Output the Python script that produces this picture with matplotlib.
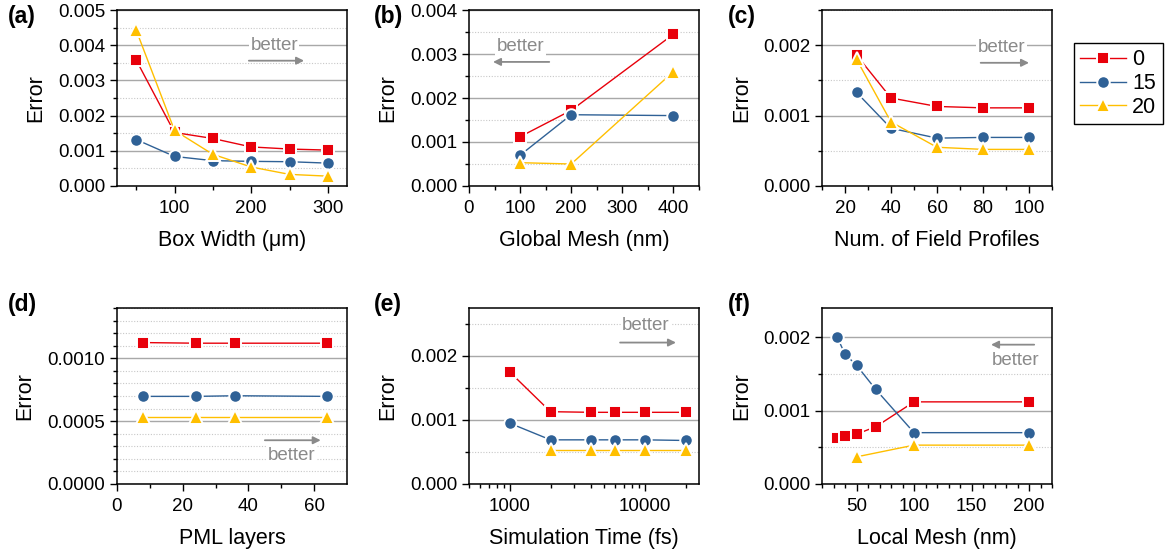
import numpy as np
import matplotlib
matplotlib.use("Agg")
import matplotlib.pyplot as plt
from matplotlib.ticker import MultipleLocator, LogLocator, FixedLocator, FuncFormatter, NullFormatter
from matplotlib.lines import Line2D

plt.rcParams['font.family'] = ['Liberation Sans', 'DejaVu Sans']

# ---------------- data ----------------
series_labels = ['0', '15', '20']

# (a) Box width (um)
a_x = [50, 100, 150, 200, 250, 300]
a_0 = [0.00358, 0.00152, 0.00135, 0.00111, 0.00105, 0.00102]
a_15 = [0.00132, 0.00084, 0.00072, 0.00070, 0.00069, 0.00065]
a_20 = [0.00443, 0.00158, 0.00090, 0.00054, 0.00033, 0.00028]

# (b) Global mesh (nm)
b_x = [100, 200, 400]
b_0 = [0.00112, 0.00172, 0.00345]
b_15 = [0.00070, 0.00162, 0.00160]
b_20 = [0.00053, 0.00050, 0.00260]

# (c) Number of field profiles
c_x = [25, 40, 60, 80, 100]
c_0 = [0.00186, 0.00125, 0.00113, 0.00111, 0.00111]
c_15 = [0.00133, 0.00082, 0.00068, 0.00069, 0.00069]
c_20 = [0.00180, 0.00091, 0.00055, 0.00052, 0.00052]

# (d) PML layers
d_x = [8, 24, 36, 64]
d_0 = [0.001125, 0.00112, 0.00112, 0.00112]
d_15 = [0.000697, 0.000697, 0.000702, 0.000697]
d_20 = [0.00053, 0.00053, 0.00053, 0.00053]

# (e) Simulation time (fs)
e_x = [1000, 2000, 4000, 6000, 10000, 20000]
e_0 = [0.00175, 0.00113, 0.00112, 0.00112, 0.00112, 0.00112]
e_15 = [0.00095, 0.00069, 0.00069, 0.00069, 0.00069, 0.00068]
e_x20 = [2000, 4000, 6000, 10000, 20000]
e_20 = [0.00053, 0.00053, 0.00053, 0.00053, 0.00053]

# (f) Local mesh (nm)
f_x = [33.3, 40, 50, 66.7, 100, 200]
f_0 = [0.00063, 0.00065, 0.00068, 0.00078, 0.00112, 0.00112]
f_15 = [0.00200, 0.00177, 0.00162, 0.00129, 0.00070, 0.00070]
f_x20 = [50, 100, 200]
f_20 = [0.00037, 0.00053, 0.00053]

# ---------------- style ----------------
RED = '#e8000b'
BLUE = '#2f6196'
GOLD = '#ffbf00'
GRAY_TXT = '#8a8a8a'
styles = [dict(color=RED, marker='s', ms=8.3),
          dict(color=BLUE, marker='o', ms=9.0),
          dict(color=GOLD, marker='^', ms=10.5)]
FS = 13.5

W, H = 1167, 556
fig = plt.figure(figsize=(W / 100, H / 100), dpi=100)


def make_ax(left, top, w=230, h=176):
    return fig.add_axes([left / W, (H - top - h) / H, w / W, h / H])


def plot_series(ax, x, y, k):
    st = styles[k]
    ax.plot(x, y, '-', color=st['color'], lw=1.0, marker=st['marker'],
            ms=st['ms'], mfc=st['color'], mec='white', mew=1.4, zorder=3 + k * 0.1,
            clip_on=False)


def style_ax(ax, ymajor, yminor, ylim, ylabel_x=-0.355):
    ax.set_ylim(*ylim)
    ax.yaxis.set_major_locator(MultipleLocator(ymajor))
    ax.yaxis.set_minor_locator(MultipleLocator(yminor))
    ax.tick_params(which='both', direction='out', labelsize=FS, width=1.0, color='black')
    ax.tick_params(which='major', length=5)
    ax.tick_params(which='minor', length=3)
    ax.tick_params(axis='x', pad=5)
    for s in ax.spines.values():
        s.set_linewidth(1.1)
    ax.grid(True, which='major', axis='y', color='#a8a8a8', lw=1.0, ls='-', zorder=0)
    ax.grid(True, which='minor', axis='y', color='#c8c8c8', lw=0.8, ls=(0, (1, 1.5)), zorder=0)
    ax.set_axisbelow(True)
    ax.set_ylabel('Error', fontsize=FS + 2)
    ax.yaxis.set_label_coords(ylabel_x, 0.5)
    ax.yaxis.label.set_va('center')


def set_xlabel(ax, text):
    ax.set_xlabel(text, fontsize=FS + 2)
    ax.xaxis.set_label_coords(0.5, -0.31)
    ax.xaxis.label.set_va('center')


def better(ax, tx, ty, ax0, ax1, ay):
    ax.text(tx, ty, 'better', color=GRAY_TXT, fontsize=FS, ha='center', va='center',
            bbox=dict(facecolor='white', edgecolor='none', pad=1.0), zorder=2)
    ax.annotate('', xy=(ax1, ay), xytext=(ax0, ay),
                arrowprops=dict(arrowstyle='-|>', color='#8a8a8a', lw=1.3,
                                mutation_scale=11, shrinkA=0, shrinkB=0), zorder=2)


def panel_label(x, y, s):
    fig.text(x / W, 1 - y / H, s, fontsize=FS + 3, fontweight='bold', ha='left', va='center')


fmt3 = FuncFormatter(lambda v, p: f'{v:.3f}')
fmt4 = FuncFormatter(lambda v, p: f'{v:.4f}')

# (a)
ax = make_ax(117, 10)
for k, y in enumerate([a_0, a_15, a_20]):
    plot_series(ax, a_x, y, k)
ax.set_xlim(25, 325)
ax.xaxis.set_major_locator(FixedLocator([100, 200, 300]))
ax.xaxis.set_minor_locator(FixedLocator([50, 150, 250]))
style_ax(ax, 0.001, 0.0005, (0, 0.005))
ax.yaxis.set_major_formatter(fmt3)
set_xlabel(ax, 'Box Width (μm)')
better(ax, 230, 0.0040, 197, 269, 0.00356)
panel_label(8, 16, '(a)')

# (b)
ax = make_ax(469, 10)
for k, y in enumerate([b_0, b_15, b_20]):
    plot_series(ax, b_x, y, k)
ax.set_xlim(0, 450)
ax.xaxis.set_major_locator(MultipleLocator(100))
ax.xaxis.set_minor_locator(MultipleLocator(50))
style_ax(ax, 0.001, 0.0005, (0, 0.004))
ax.yaxis.set_major_formatter(fmt3)
set_xlabel(ax, 'Global Mesh (nm)')
better(ax, 101, 0.00318, 157, 47, 0.00282)
panel_label(374, 16, '(b)')

# (c)
ax = make_ax(822, 10)
for k, y in enumerate([c_0, c_15, c_20]):
    plot_series(ax, c_x, y, k)
ax.set_xlim(10, 110)
ax.xaxis.set_major_locator(MultipleLocator(20))
ax.xaxis.set_minor_locator(FixedLocator([10, 30, 50, 70, 90, 110]))
style_ax(ax, 0.001, 0.0005, (0, 0.0025), ylabel_x=-0.35)
ax.yaxis.set_major_formatter(fmt3)
set_xlabel(ax, 'Num. of Field Profiles')
better(ax, 88, 0.00197, 79, 100, 0.00175)
panel_label(728, 16, '(c)')

# legend
handles = [Line2D([], [], color=st['color'], lw=1.0, marker=st['marker'], ms=st['ms'],
                  mfc=st['color'], mec='white', mew=1.4) for st in styles]
leg = fig.legend(handles, series_labels, loc='upper left',
                 bbox_to_anchor=(1074 / W, 1 - 43 / H), borderaxespad=0,
                 fontsize=15.5, frameon=True, fancybox=False, edgecolor='black',
                 framealpha=1, handlelength=2.1, handletextpad=0.3, labelspacing=0.12,
                 borderpad=0.3)
leg.get_frame().set_linewidth(1.0)

# (d)
ax = make_ax(117, 308)
for k, y in enumerate([d_0, d_15, d_20]):
    plot_series(ax, d_x, y, k)
ax.set_xlim(0, 70)
ax.xaxis.set_major_locator(MultipleLocator(20))
ax.xaxis.set_minor_locator(FixedLocator([10, 30, 50]))
style_ax(ax, 0.0005, 0.0001, (0, 0.0014), ylabel_x=-0.40)
ax.yaxis.set_major_formatter(fmt4)
set_xlabel(ax, 'PML layers')
better(ax, 53, 0.000229, 45, 62, 0.000348)
panel_label(8, 305, '(d)')

# (e)
ax = make_ax(469, 308)
for k, (x, y) in enumerate([(e_x, e_0), (e_x, e_15), (e_x20, e_20)]):
    plot_series(ax, x, y, k)
ax.set_xscale('log')
ax.set_xlim(500, 25000)
ax.xaxis.set_major_locator(FixedLocator([1000, 10000]))
ax.xaxis.set_major_formatter(FuncFormatter(lambda v, p: f'{int(round(v))}'))
ax.xaxis.set_minor_locator(LogLocator(base=10, subs=np.arange(2, 10), numticks=20))
ax.xaxis.set_minor_formatter(NullFormatter())
style_ax(ax, 0.001, 0.0005, (0, 0.00275))
ax.yaxis.set_major_formatter(fmt3)
set_xlabel(ax, 'Simulation Time (fs)')
better(ax, 10100, 0.00247, 6530, 16900, 0.00221)
panel_label(374, 305, '(e)')

# (f)
ax = make_ax(822, 308)
for k, (x, y) in enumerate([(f_x, f_0), (f_x, f_15), (f_x20, f_20)]):
    plot_series(ax, x, y, k)
ax.set_xlim(20, 220)
ax.xaxis.set_major_locator(MultipleLocator(50))
ax.xaxis.set_minor_locator(MultipleLocator(10))
style_ax(ax, 0.001, 0.0005, (0, 0.0024), ylabel_x=-0.35)
ax.yaxis.set_major_formatter(fmt3)
set_xlabel(ax, 'Local Mesh (nm)')
better(ax, 188, 0.00169, 204.5, 167, 0.00190)
panel_label(728, 305, '(f)')

fig.savefig('out.png', dpi=100)
